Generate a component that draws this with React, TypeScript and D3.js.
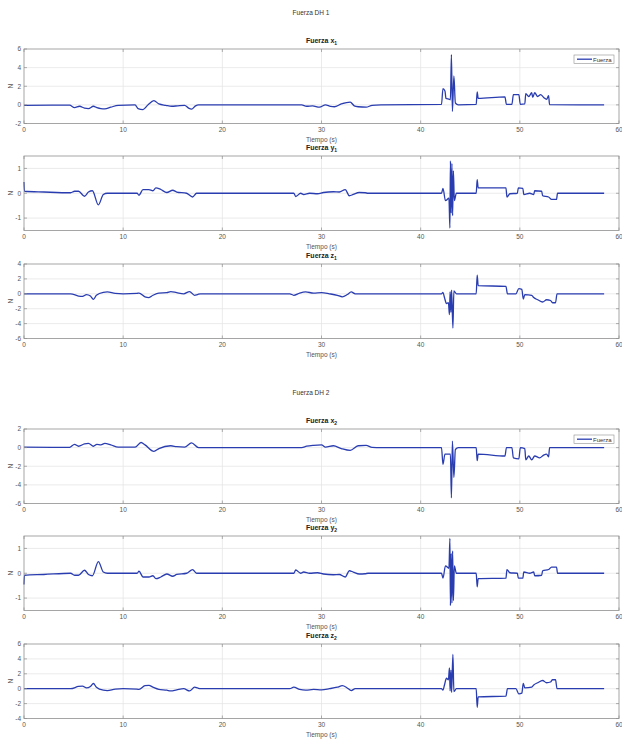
import React from 'react'
import * as d3 from 'd3'

// time axis (s) and tick labels
const xTicks = [0, 10, 20, 30, 40, 50, 60]

// Fuerza DH 1, [t (s), N]
const fuerzaX1: [number, number][] = [
  [0, -0.05], [4.6, -0.03], [5.1, -0.3], [5.6, -0.15], [6.1, -0.35], [6.5, -0.4], [7.0, -0.15], [7.35, -0.3],
  [7.75, -0.4], [8.15, -0.42], [8.75, -0.25], [9.5, -0.05], [11.2, 0], [11.5, -0.4], [12.0, -0.5], [12.5, 0],
  [13.1, 0.45], [13.6, 0.1], [14.3, -0.05], [14.9, -0.15], [15.5, -0.1], [16.2, -0.05], [16.6, -0.35], [16.9, -0.45],
  [17.3, -0.1], [17.6, 0], [28.0, 0], [28.5, -0.15], [29.1, -0.1], [29.8, -0.25], [30.4, 0], [30.9, -0.15],
  [31.3, -0.2], [32.0, 0.1], [32.9, 0.3], [33.3, -0.1], [33.7, -0.2], [34.5, -0.25], [35.1, -0.05], [36, 0],
  [42.1, 0.05], [42.25, 1.75], [42.45, 1.5], [42.55, 0.7], [42.9, 0.6], [43.0, 0.55], [43.1, 5.4], [43.2, -0.7],
  [43.35, 3.1], [43.5, 0.2], [43.8, 0], [45.6, 0.05], [45.7, 1.4], [45.8, 0.7], [48.5, 0.85], [48.65, 0.05],
  [49.2, 0.05], [49.35, 1.1], [49.9, 1.1], [50.05, 0.05], [50.5, 0.1], [50.6, 1.2], [50.9, 0.9], [51.2, 1.3],
  [51.3, 0.8], [51.5, 1.3], [51.8, 0.9], [52.1, 1.1], [52.4, 0.8], [52.7, 0.6], [52.9, 1.0], [53.0, 0.02], [58.5, 0],
]
const fuerzaY1: [number, number][] = [
  [0, 0.45], [0.05, 0.08], [2, 0.05], [4.7, 0.02], [5.1, 0.08], [5.5, 0.08], [6.1, -0.12], [6.5, 0.05], [6.9, 0.1],
  [7.5, -0.47], [8.0, -0.05], [8.4, 0], [11.4, 0], [11.6, -0.08], [12.0, 0.15], [12.6, 0.15], [13.0, 0.1], [13.3, 0.22],
  [13.8, 0.15], [14.4, 0.03], [15.0, 0.12], [15.4, 0.05], [16.4, 0], [17.0, -0.15], [17.4, 0], [27.2, 0], [27.4, -0.13],
  [27.9, 0], [28.2, -0.05], [28.8, 0], [29.6, -0.02], [30.2, 0.03], [31.2, 0.06], [31.8, 0.05], [32.4, 0.15],
  [32.8, -0.1], [33.2, -0.05], [33.8, 0.03], [34.4, 0.02], [34.7, 0], [42.1, 0], [42.25, 0.2], [42.5, -0.3],
  [42.85, -0.2], [42.95, -1.4], [43.0, 1.3], [43.08, -0.8], [43.15, 1.2], [43.22, -0.9], [43.3, 0.9], [43.4, -0.3],
  [43.6, 0], [45.6, 0], [45.7, 0.55], [45.8, 0.22], [48.6, 0.22], [48.7, -0.15], [49.0, -0.02], [49.75, 0],
  [49.85, 0.22], [50.3, 0.2], [50.4, -0.05], [51.0, 0], [51.4, -0.05], [51.5, 0.1], [52.2, 0.08], [52.3, -0.1],
  [52.9, -0.15], [53.2, -0.25], [53.7, -0.25], [53.8, 0], [58.5, 0],
]
const fuerzaZ1: [number, number][] = [
  [0, 0], [4.7, 0], [5.5, -0.3], [5.9, -0.35], [6.3, -0.1], [6.7, -0.3], [7.0, -0.75], [7.3, -0.2], [8.0, 0.2],
  [8.4, 0.25], [9.2, 0.05], [10, 0], [11.4, 0.05], [11.6, 0.1], [12.2, -0.4], [12.6, -0.5], [13.0, -0.2], [13.6, 0.1],
  [14.4, 0.15], [14.8, 0.3], [15.4, 0.15], [16.1, 0], [16.7, 0.3], [17.2, -0.2], [17.5, -0.1], [17.8, 0], [26.8, 0],
  [27.2, -0.2], [27.8, 0.1], [28.4, 0.25], [29.2, 0.1], [30.0, 0.15], [30.8, 0], [31.6, -0.2], [32.1, -0.4],
  [32.6, -0.1], [33.0, 0.25], [33.4, 0], [42.1, 0], [42.25, 0.2], [42.4, -0.5], [42.6, -1.3], [42.8, -1.2],
  [42.9, -2.8], [42.97, 0.3], [43.05, -2.5], [43.12, 0.5], [43.25, -4.6], [43.35, 0.4], [43.6, 0], [45.6, 0],
  [45.7, 2.5], [45.8, 1.1], [48.6, 1.0], [48.75, 0], [49.6, 0], [49.9, 0.7], [50.2, 0.6], [50.35, -0.7], [50.5, -0.1],
  [51.2, -0.2], [51.4, -0.5], [51.8, -0.8], [52.3, -1.1], [52.7, -0.8], [53.1, -0.9], [53.3, -1.2], [53.6, -1.2],
  [53.75, 0], [58.5, 0],
]

// Fuerza DH 2
const fuerzaX2: [number, number][] = [
  [0, 0.05], [4.6, 0.03], [5.1, 0.35], [5.5, 0.15], [6.1, 0.4], [6.5, 0.45], [7.0, 0.15], [7.35, 0.35], [7.75, 0.3],
  [8.15, 0.45], [8.75, 0.3], [9.5, 0.05], [11.2, 0.05], [11.8, 0.55], [12.2, 0.3], [13.1, -0.4], [13.6, -0.1],
  [14.8, 0.2], [15.4, 0.1], [16.2, 0.05], [16.9, 0.5], [17.6, 0], [28.0, 0], [28.5, 0.15], [29.2, 0.25], [30.0, 0.3],
  [30.4, 0.05], [31.2, 0.2], [32.0, -0.1], [32.9, -0.3], [33.7, 0.2], [34.5, 0.25], [35.1, 0.02], [36, 0], [42.1, 0],
  [42.25, -1.8], [42.45, -0.7], [43.0, -0.7], [43.1, -5.4], [43.2, 0.7], [43.35, -3.2], [43.5, -0.2], [43.8, 0],
  [45.6, 0], [45.7, -1.4], [45.8, -0.7], [48.5, -0.9], [48.65, 0], [49.2, 0], [49.35, -1.1], [49.9, -1.2], [50.05, 0],
  [50.5, -0.1], [50.6, -1.3], [50.9, -0.9], [51.2, -1.3], [51.5, -0.9], [52.0, -1.1], [52.4, -0.8], [52.7, -0.7],
  [52.9, -1.0], [53.0, 0], [58.5, 0],
]
const fuerzaY2: [number, number][] = [
  [0, -0.45], [0.05, -0.08], [2, -0.05], [4.7, 0], [5.1, -0.08], [5.5, -0.08], [6.1, 0.12], [6.5, -0.05], [6.9, -0.1],
  [7.5, 0.47], [8.0, 0.05], [8.4, 0], [11.4, 0], [11.6, 0.08], [12.0, -0.15], [12.6, -0.15], [13.0, -0.1], [13.3, -0.22],
  [13.8, -0.15], [14.4, -0.03], [15.0, -0.12], [15.4, -0.05], [16.4, 0], [17.0, 0.15], [17.4, 0], [27.2, 0],
  [27.4, 0.13], [27.9, 0], [28.2, 0.05], [28.8, 0], [29.6, 0.02], [30.2, -0.03], [31.2, -0.06], [31.8, -0.05],
  [32.4, -0.15], [32.8, 0.1], [33.2, 0.05], [33.8, -0.03], [34.4, -0.02], [34.7, 0], [42.1, 0], [42.25, -0.2],
  [42.5, 0.3], [42.85, 0.2], [42.95, 1.4], [43.0, -1.3], [43.08, 0.8], [43.15, -1.2], [43.22, 0.9], [43.3, -1.1],
  [43.4, 0.3], [43.6, 0], [45.6, 0], [45.7, -0.55], [45.8, -0.22], [48.6, -0.2], [48.7, 0.15], [49.0, 0.02],
  [49.75, 0], [49.85, -0.2], [50.3, -0.2], [50.4, 0.05], [51.0, 0], [51.4, 0.05], [51.5, -0.1], [52.2, -0.08],
  [52.3, 0.1], [52.9, 0.15], [53.2, 0.25], [53.7, 0.25], [53.8, 0], [58.5, 0],
]
const fuerzaZ2: [number, number][] = [
  [0, 0], [4.7, 0], [5.5, 0.3], [5.9, 0.35], [6.3, 0.1], [6.7, 0.3], [7.0, 0.7], [7.3, 0.2], [8.0, -0.2], [8.4, -0.25],
  [9.2, -0.05], [10, 0], [11.4, -0.05], [11.6, -0.1], [12.2, 0.4], [12.6, 0.45], [13.0, 0.2], [13.6, -0.1], [14.4, -0.2],
  [14.8, -0.3], [15.4, -0.15], [16.1, 0], [16.7, -0.3], [17.2, 0.2], [17.5, 0.1], [17.8, 0], [26.8, 0], [27.2, 0.2],
  [27.8, -0.1], [28.4, -0.2], [29.2, -0.1], [30.0, -0.15], [30.8, 0], [31.6, 0.2], [32.1, 0.4], [32.6, 0.1],
  [33.0, -0.25], [33.4, 0], [42.1, 0], [42.25, -0.2], [42.4, 0.5], [42.6, 1.4], [42.8, 1.2], [42.9, 2.8],
  [42.97, -0.3], [43.05, 2.5], [43.12, -0.5], [43.25, 4.6], [43.35, -0.4], [43.6, 0], [45.6, 0], [45.7, -2.5],
  [45.8, -1.1], [48.6, -1.0], [48.75, 0], [49.6, 0], [49.9, -0.7], [50.2, -0.6], [50.35, 0.7], [50.5, 0.1],
  [51.2, 0.2], [51.4, 0.5], [51.8, 0.8], [52.3, 1.1], [52.7, 0.8], [53.1, 0.9], [53.3, 1.2], [53.6, 1.2],
  [53.75, 0], [58.5, 0],
]

const yTicksX1 = [-2, 0, 2, 4, 6]
const yTicksY = [-1, 0, 1]
const yTicksZ1 = [-6, -4, -2, 0, 2, 4]
const yTicksX2 = [-6, -4, -2, 0, 2]
const yTicksZ2 = [-4, -2, 0, 2, 4, 6]

const figureTitles = ['Fuerza DH 1', 'Fuerza DH 2']

const LEFT = 24
const RIGHT = 619
const PH = 74.5
const FIG_OFFSET = 380
const font = '"Liberation Sans", Arial, Helvetica, sans-serif'
const lineColor = '#2a3db0'
const axisColor = '#8f8f8f'
const textColor = '#555'

type PanelProps = {
  top: number
  axis: string
  sub: string
  data: [number, number][]
  domain: [number, number]
  yTicks: number[]
  legend?: boolean
}

const Panel = ({ top, axis, sub, data, domain, yTicks, legend }: PanelProps) => {
  const x = d3.scaleLinear().domain([0, 60]).range([LEFT, RIGHT])
  const y = d3.scaleLinear().domain(domain).range([top + PH, top])
  const line = d3.line<[number, number]>()
    .x(d => x(d[0]))
    .y(d => y(d[1]))
    .curve(d3.curveMonotoneX)
  const bottom = top + PH
  const tl = 3
  return (
    <g>
      {/* grid */}
      {xTicks.slice(1, -1).map(t => (
        <line key={'gx' + t} x1={x(t)} x2={x(t)} y1={top} y2={bottom} stroke="#e3e3e3" strokeWidth={0.7} />
      ))}
      {yTicks.filter(t => t !== domain[0] && t !== domain[1]).map(t => (
        <line key={'gy' + t} x1={LEFT} x2={RIGHT} y1={y(t)} y2={y(t)} stroke="#e3e3e3" strokeWidth={0.7} />
      ))}
      <path d={line(data) || ''} fill="none" stroke={lineColor} strokeWidth={1.3} strokeLinejoin="round" />
      {/* box */}
      <rect x={LEFT} y={top} width={RIGHT - LEFT} height={PH} fill="none" stroke={axisColor} strokeWidth={0.8} />
      {/* ticks */}
      {xTicks.map(t => (
        <g key={'tx' + t}>
          <line x1={x(t)} x2={x(t)} y1={bottom} y2={bottom - tl} stroke={axisColor} strokeWidth={0.7} />
          <line x1={x(t)} x2={x(t)} y1={top} y2={top + tl} stroke={axisColor} strokeWidth={0.7} />
          <text x={x(t)} y={bottom + 8.5} textAnchor="middle" fontSize={6.5} fill={textColor}>{t}</text>
        </g>
      ))}
      {yTicks.map(t => (
        <g key={'ty' + t}>
          <line x1={LEFT} x2={LEFT + tl} y1={y(t)} y2={y(t)} stroke={axisColor} strokeWidth={0.7} />
          <line x1={RIGHT} x2={RIGHT - tl} y1={y(t)} y2={y(t)} stroke={axisColor} strokeWidth={0.7} />
          <text x={LEFT - 3} y={y(t) + 2.3} textAnchor="end" fontSize={6.5} fill={textColor}>{t}</text>
        </g>
      ))}
      <text x={(LEFT + RIGHT) / 2} y={bottom + 18.5} textAnchor="middle" fontSize={6.5} fill={textColor}>Tiempo (s)</text>
      <text transform={`translate(${13},${top + PH / 2}) rotate(-90)`} textAnchor="middle" fontSize={6.5} fill={textColor}>N</text>
      <text x={(LEFT + RIGHT) / 2} y={top - 6} textAnchor="middle" fontSize={7} fontWeight="bold" fill="#222">
        Fuerza {axis}<tspan dy={2} fontSize={5}>{sub}</tspan>
      </text>
      {legend && (
        <g>
          <rect x={574} y={top + 6} width={40} height={8.5} fill="#fff" stroke={axisColor} strokeWidth={0.6} />
          <line x1={577} x2={592} y1={top + 10.2} y2={top + 10.2} stroke={lineColor} strokeWidth={1.3} />
          <text x={593} y={top + 12.5} fontSize={6} fill="#333">Fuerza</text>
        </g>
      )}
    </g>
  )
}

export default function App() {
  const figs = [0, 1]
  return (
    <svg width={622} height={740} style={{ position: 'absolute', left: 0, top: 0, background: '#fff', fontFamily: font }}>
      <rect width={622} height={740} fill="#fff" />
      {figs.map(f => {
        const o = f * FIG_OFFSET
        const dh = f === 0
        return (
          <g key={f}>
            <text x={311} y={15 + o} textAnchor="middle" fontSize={6.5} fill="#333">{figureTitles[f]}</text>
            <Panel top={49 + o} axis="x" sub={String(f + 1)} data={dh ? fuerzaX1 : fuerzaX2}
              domain={dh ? [-2, 6] : [-6, 2]} yTicks={dh ? yTicksX1 : yTicksX2} legend />
            <Panel top={156 + o} axis="y" sub={String(f + 1)} data={dh ? fuerzaY1 : fuerzaY2}
              domain={[-1.5, 1.5]} yTicks={yTicksY} />
            <Panel top={264 + o} axis="z" sub={String(f + 1)} data={dh ? fuerzaZ1 : fuerzaZ2}
              domain={dh ? [-6, 4] : [-4, 6]} yTicks={dh ? yTicksZ1 : yTicksZ2} />
          </g>
        )
      })}
    </svg>
  )
}
